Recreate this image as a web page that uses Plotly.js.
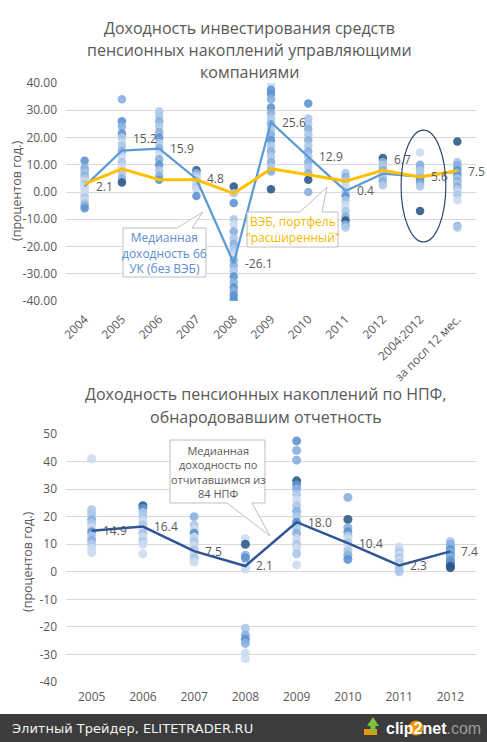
<!DOCTYPE html>
<html><head><meta charset="utf-8">
<script src="https://cdn.plot.ly/plotly-3.0.1.min.js"></script>
<style>html,body{margin:0;padding:0;background:#fff;}#chart{width:487px;height:742px;}</style>
</head><body><div id="chart"></div>
<script>
// ---------- DATA: top chart (управляющие компании) ----------
const topCats = ['2004','2005','2006','2007','2008','2009','2010','2011','2012','2004:2012','за посл 12 мес.'];
const topMedian = [2.1, 15.2, 15.9, 4.8, -26.1, 25.6, 12.9, 0.4, 6.7, 5.6, 7.5];
const topMedianLabels = ['2.1','15.2','15.9','4.8','-26.1','25.6','12.9','0.4','6.7','5.6','7.5'];
const vebLine = [3.0, 8.5, 4.5, 4.5, -0.5, 8.5, 6.3, 4.0, 8.0, 5.5, 7.8];
const topTickVals = [40, 30, 20, 10, 0, -10, -20, -30, -40];
const topTickText = ['40.00','30.00','20.00','10.00','0.00','-10.00','-20.00','-30.00','-40.00'];

const uk2004 = [11.5, 9, 8, 7, 6, 5, 4, 3, 2, 1, 0, -1, -2, -3, -4, -5, -6];
const uk2005 = [34, 26, 24, 21.5, 20, 18, 17, 15, 13, 11, 9, 7, 5, 3.5];
const uk2006 = [29.5, 28, 26, 24, 22, 20, 18, 16, 14, 12, 10, 8, 6, 4.5];
const uk2007 = [8, 7, 6, 5, 4, 3, 2, 1, -1.5];
const uk2008 = [2, -0.5, -4, -10, -12, -14.5, -17, -19, -21, -23, -25, -27, -29, -31, -33, -35, -36.5, -38, -39.5];
const uk2009 = [39.5, 37.5, 36, 34, 31, 29, 27, 25, 23, 21, 19, 17, 15, 13, 11, 9, 7.5, 1];
const uk2010 = [32.5, 27, 25, 23, 21, 19, 17, 15, 13, 11, 9, 7, 4.5, 0];
const uk2011 = [7, 5.5, 4, 2, 0, -1.5, -3, -5, -7, -9, -10.5, -12, -13];
const uk2012 = [12.5, 11, 10, 9, 8, 7, 6, 5, 4, 2.5];
const ukAll = [14.5, 10, 9, 8, 7, 6, 5, 4, 3, 2, -7];
const uk12m = [18.5, 11, 10, 9, 8, 7, 6, 5, 4, 3, 2, 1, 0, -1, -3, -12.5, -13];

// ---------- DATA: bottom chart (НПФ) ----------
const botCats = ['2005','2006','2007','2008','2009','2010','2011','2012'];
const botMedian = [14.9, 16.4, 7.5, 2.1, 18.0, 10.4, 2.3, 7.4];
const botMedianLabels = ['14.9','16.4','7.5','2.1','18.0','10.4','2.3','7.4'];
const botTickVals = [50, 40, 30, 20, 10, 0, -10, -20, -30, -40];
const botTickText = ['50','40','30','20','10','0','-10','-20','-30','-40'];

const npf2005 = [41, 22.5, 21, 19, 17.5, 16, 14.5, 13, 11.5, 10, 8.5, 7];
const npf2006 = [24, 23, 21.5, 20, 18.5, 17, 15.5, 14, 12.5, 11, 10, 6.5];
const npf2007 = [20, 17, 15.5, 14, 12.5, 11, 9.5, 8, 6.5, 5, 3.5];
const npf2008 = [12, 10, 6, 5, 2, 1, -20.5, -23, -24.5, -26, -29.5, -31.5];
const npf2009 = [47.5, 44, 40.5, 33, 31.5, 30, 28, 26, 24, 22, 20, 18, 16, 14, 12, 10, 8.5, 6.5, 2.5];
const npf2010 = [27, 19, 16, 14.5, 13, 12, 10.5, 9, 7.5, 6, 4.5];
const npf2011 = [9, 8, 7, 6, 5, 4, 3, 2, 1, 0];
const npf2012 = [11, 10, 9, 8, 7, 6, 5, 4, 3, 2, 1.5];

// ---------- STYLE (kept apart from data) ----------
const palette = ['#ccdbef','#adc8e9','#88b0df','#5d93d0','#2c5a8a'];
const ukShades = [
  [3,2,2,1,2,1,0,1,0,0,0,0,1,0,1,2,3],
  [2,3,2,3,1,0,1,2,0,1,0,1,2,4],
  [1,1,2,1,2,3,1,2,0,2,3,1,2,3],
  [4,2,1,0,1,0,1,0,3],
  [4,1,3,1,0,2,1,2,1,0,2,2,1,3,2,3,2,3,3],
  [0,3,3,2,3,2,1,2,1,2,3,1,2,1,2,1,2,4],
  [3,1,1,2,1,2,1,2,1,2,1,2,4,2],
  [1,2,1,0,1,3,1,0,1,2,4,2,1],
  [4,2,1,1,2,1,0,1,2,1],
  [0,2,2,1,1,1,2,3,2,1,4],
  [4,1,2,2,3,2,3,1,2,1,2,1,0,1,0,2,1]
];
const npfShades = [
  [0,1,1,2,1,0,3,1,2,1,0,0],
  [4,3,1,1,0,1,0,1,0,1,0,0],
  [2,1,0,3,0,1,0,1,0,1,0],
  [0,4,2,3,0,0,1,2,3,2,0,0],
  [3,2,2,4,3,2,1,0,1,2,1,3,1,2,0,1,0,1,0],
  [2,4,2,3,1,0,1,0,1,2,3],
  [0,0,1,0,1,0,1,0,1,1],
  [1,2,2,3,2,3,2,3,3,4,4]
];
const topLabelShiftY = [0,12,0,0,0,0,0,0,14,0,0];

const W = 487, H = 742;
const px = x => x / W, py = y => 1 - y / H;
const grey = '#595959';
const FONT = 'Open Sans, Noto Sans, sans-serif';

function dots(cats, lists, shades, xa, ya, size) {
  const x = [], y = [], c = [];
  lists.forEach((vals, i) => vals.forEach((v, j) => { x.push(cats[i]); y.push(v); c.push(palette[shades[i][j]]); }));
  return {type:'scatter', mode:'markers', x, y, xaxis:xa, yaxis:ya, hoverinfo:'skip',
          marker:{size, color:c, opacity:0.9, line:{width:0}}};
}

const ukLists = [uk2004, uk2005, uk2006, uk2007, uk2008, uk2009, uk2010, uk2011, uk2012, ukAll, uk12m];
const npfLists = [npf2005, npf2006, npf2007, npf2008, npf2009, npf2010, npf2011, npf2012];

const traces = [
  dots(topCats, ukLists, ukShades, 'x', 'y', 8.5),
  {type:'scatter', mode:'lines', x:topCats, y:topMedian, xaxis:'x', yaxis:'y', hoverinfo:'skip',
   line:{color:'#5b9bd5', width:2.25}},
  {type:'scatter', mode:'lines', x:topCats, y:vebLine, xaxis:'x', yaxis:'y', hoverinfo:'skip',
   line:{color:'#ffc000', width:3}},
  dots(botCats, npfLists, npfShades, 'x2', 'y2', 9),
  {type:'scatter', mode:'lines', x:botCats, y:botMedian, xaxis:'x2', yaxis:'y2', hoverinfo:'skip',
   line:{color:'#2f5597', width:2.5}}
];

const annotations = [];
// median labels (category axes: position by category index)
topCats.forEach((c, i) => annotations.push({xref:'x', yref:'y', x:i, y:topMedian[i], text:topMedianLabels[i],
  showarrow:false, xanchor:'left', yanchor:'middle', xshift:9, yshift:topLabelShiftY[i], font:{size:12, color:grey, family:FONT}}));
botCats.forEach((c, i) => annotations.push({xref:'x2', yref:'y2', x:i, y:botMedian[i], text:botMedianLabels[i],
  showarrow:false, xanchor:'left', yanchor:'middle', xshift:9, font:{size:12, color:grey, family:FONT}}));

function txt(x, y, text, size, color, extra) {
  annotations.push(Object.assign({xref:'paper', yref:'paper', x:px(x), y:py(y), text, showarrow:false,
    xanchor:'center', yanchor:'middle', font:{size, color, family:FONT}}, extra || {}));
}
// titles
txt(250, 28, 'Доходность инвестирования средств', 16, grey);
txt(250, 50, 'пенсионных накоплений управляющими', 16, grey);
txt(250, 72, 'компаниями', 16, grey);
txt(266, 394, 'Доходность пенсионных накоплений по НПФ,', 16, grey);
txt(266, 417, 'обнародовавшим отчетность', 16, grey);
// y titles
txt(16, 191, '(процентов год.)', 12.5, grey, {textangle:-90});
txt(27, 562, '(процентов год.)', 12.5, grey, {textangle:-90});
// callout texts
txt(164.5, 253, 'Медианная<br>доходность 66<br>УК (без ВЭБ)', 12, '#5a8ed0');
txt(292.5, 229, 'ВЭБ, портфель<br>"расширенный"', 12, '#f5b800');
txt(217.5, 472, 'Медианная<br>доходность по<br>отчитавшимся из<br>84 НПФ', 11, grey);
// footer
txt(10, 728, 'Элитный Трейдер, ELITETRADER.RU', 13, '#f2f2f2', {xanchor:'left', font:{size:13, color:'#f2f2f2', family:'DejaVu Sans'}});
txt(384, 728, '<b>clip<span style="color:#ffffff">2</span>net</b><span style="color:#9c9c9c">.com</span>', 16, '#ffffff',
    {xanchor:'left', font:{size:16, color:'#ffffff', family:'Liberation Sans, Arial'}});

function P(pts) { return 'M' + pts.map(p => px(p[0]) + ',' + py(p[1])).join(' L') + ' Z'; }
const shapes = [
  // callout 1
  {type:'path', xref:'paper', yref:'paper', path:P([[123,228],[177,228],[203,212],[192,228],[206,228],[206,277],[123,277]]),
   fillcolor:'#ffffff', line:{color:'#bfbfbf', width:1}, layer:'above'},
  // callout 2
  {type:'path', xref:'paper', yref:'paper', path:P([[247,212],[300,212],[327,187],[322,212],[338,212],[338,247],[247,247]]),
   fillcolor:'#ffffff', line:{color:'#bfbfbf', width:1}, layer:'above'},
  // callout 3
  {type:'path', xref:'paper', yref:'paper', path:P([[170,440],[265,440],[265,503],[252,503],[270,536],[227,503],[170,503]]),
   fillcolor:'#ffffff', line:{color:'#bfbfbf', width:1}, layer:'above'},
  // ellipse
  {type:'circle', xref:'x', yref:'y', x0:8.49, x1:9.69, y0:-18.3, y1:22.7, line:{color:'#2e4a6e', width:1.2}, layer:'above'},
  // footer bar
  {type:'rect', xref:'paper', yref:'paper', x0:0, x1:1, y0:0, y1:py(714), fillcolor:'#3c3c3c', line:{width:0}, layer:'above'},
  // clip2net circle behind "2"
  {type:'circle', xref:'paper', yref:'paper', x0:px(408.5), x1:px(423.5), y0:py(735.5), y1:py(720.5), fillcolor:'#f29400', line:{width:0}, layer:'above'},
  // arrow icon
  {type:'path', xref:'paper', yref:'paper', path:P([[364,729],[377,729],[377,735],[364,735]]), fillcolor:'#f29400', line:{width:0}, layer:'above'},
  {type:'path', xref:'paper', yref:'paper', path:P([[367,726],[373,717],[379,726],[375.5,726],[375.5,733],[370.5,733],[370.5,726]]), fillcolor:'#7cc242', line:{width:0}, layer:'above'}
];

const axisCommon = {showline:false, zeroline:false, ticks:'', tickfont:{size:12, color:grey, family:FONT}, fixedrange:true};
const layout = {
  width:W, height:H, margin:{l:0, r:0, t:0, b:0}, paper_bgcolor:'#ffffff', plot_bgcolor:'#ffffff',
  showlegend:false, font:{family:FONT, color:grey},
  xaxis: Object.assign({}, axisCommon, {domain:[px(66), px(476)], anchor:'y', type:'category', categoryorder:'array',
    categoryarray:topCats, range:[-0.5, 10.5], showgrid:false, tickangle:-45, ticklabelstandoff:8}),
  yaxis: Object.assign({}, axisCommon, {domain:[py(301), py(83)], anchor:'x', range:[-40, 40],
    tickmode:'array', tickvals:topTickVals, ticktext:topTickText, gridcolor:'#d9d9d9', gridwidth:1, ticklabelstandoff:8}),
  xaxis2: Object.assign({}, axisCommon, {domain:[px(66), px(476)], anchor:'y2', type:'category', categoryorder:'array',
    categoryarray:botCats, range:[-0.5, 7.5], showgrid:false, tickangle:0, ticklabelstandoff:6}),
  yaxis2: Object.assign({}, axisCommon, {domain:[py(682), py(434)], anchor:'x2', range:[-40, 50],
    tickmode:'array', tickvals:botTickVals, ticktext:botTickText, gridcolor:'#d9d9d9', gridwidth:1, ticklabelstandoff:8}),
  annotations, shapes
};

Plotly.newPlot('chart', traces, layout, {staticPlot:true, displayModeBar:false});
</script>
</body></html>
